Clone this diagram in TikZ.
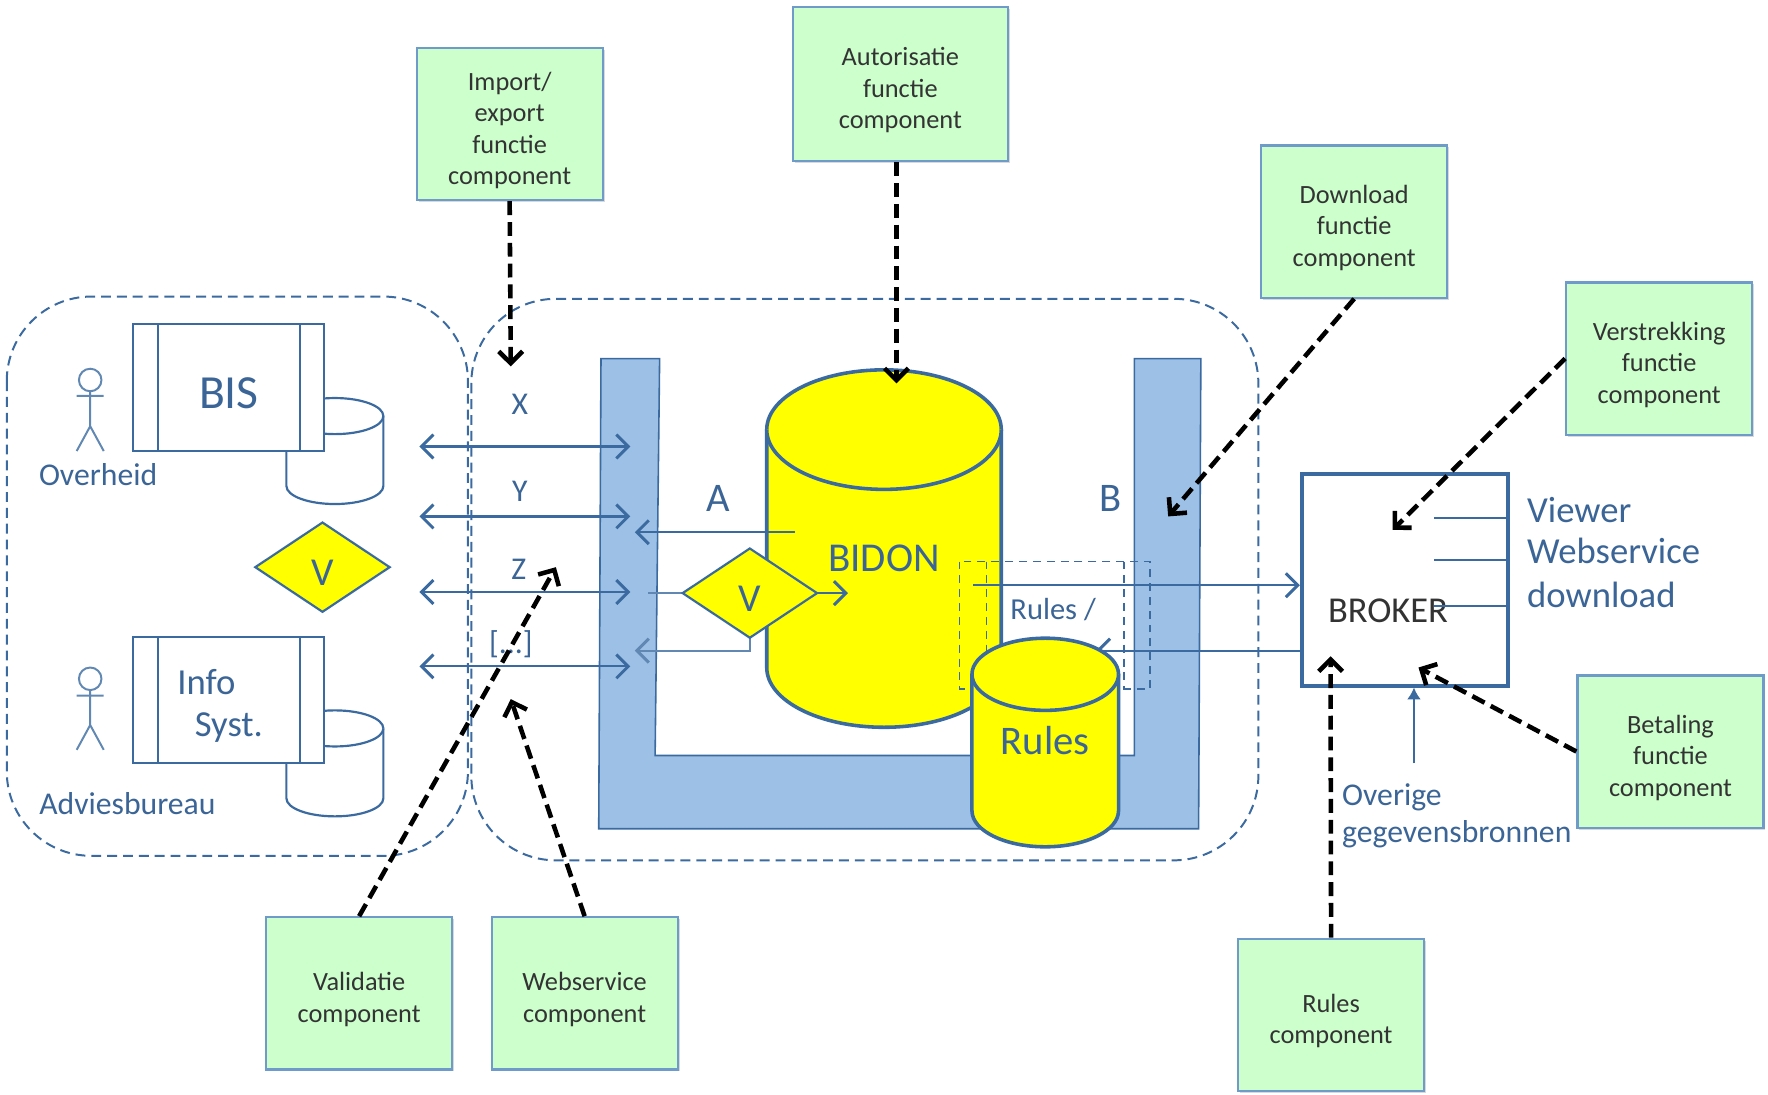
\documentclass[tikz,border=0pt]{standalone}
\usepackage{fontspec}
\setmainfont{Carlito}
\usepackage{tikz}
\usetikzlibrary{arrows.meta,shadows,shapes.geometric}
\definecolor{myline}{HTML}{3A6A9F}
\definecolor{mytext}{HTML}{3B6596}
\definecolor{myblock}{HTML}{9DC0E6}
\definecolor{mygreen}{HTML}{CCFFCC}
\definecolor{mygreenline}{HTML}{6F9BCB}
\definecolor{myyellow}{HTML}{FFFF00}
\begin{document}
\begin{tikzpicture}[x=0.02cm,y=-0.02cm]
		\useasboundingbox (0,0) rectangle (1568,971);
		\tikzset{mycomponent/.style={draw=mygreenline,fill=mygreen,line width=1.1pt,text width=3.3cm,minimum height=2.7cm,align=center,text=black!80,inner sep=0pt,font=\fontsize{13.3}{15.9}\selectfont,execute at begin node={\rule{0pt}{15.5pt}},drop shadow={opacity=0.3,shadow xshift=1pt,shadow yshift=-1pt}}} %green boxes
		\tikzset{mycall/.style={draw=black,line width=2.3pt,dash pattern=on 7pt off 3.5pt,-{Straight Barb[length=6pt,width=12pt,line width=2.3pt]}}} %black arrows
		\tikzset{myflow/.style={draw=myline,line width=1.1pt,-{Straight Barb[length=6pt,width=12pt,line width=1.5pt]}}} %blue arrows
		\tikzset{myregion/.style={draw=myline,line width=1pt,dash pattern=on 5pt off 3pt,rounded corners=1.5cm}} %dashed regions
		\tikzset{mycyl/.style={draw=myline,fill=myyellow,line width=1.8pt}}
		\tikzset{mysmallcyl/.style={draw=myline,fill=white,line width=1.1pt}}
		\tikzset{mysystem/.style={draw=myline,fill=white,line width=1.1pt}}
		\tikzset{mycheck/.style={diamond,draw=myline,fill=myyellow,line width=1.1pt,aspect=1.5,minimum width=2.4cm,minimum height=1.6cm,inner sep=0pt,text=mytext,font=\fontsize{20}{24}\selectfont}}
		\tikzset{mylabel/.style={text=mytext,inner sep=0pt,align=left,font=\fontsize{16}{19}\selectfont}}
		\draw[myregion] (6,263) rectangle (415,759); %organisations
		\draw[myregion] (418,265) rectangle (1116,763);
		\fill[myblock,draw=myline,line width=0.8pt] (533,318) -- (585,318) -- (581,670) -- (1006,670) -- (1006,318) -- (1065,318) -- (1063,735) -- (531,735) -- cycle; %the U block
		\draw[mysmallcyl] (254,369) -- (254,431) arc[start angle=180,end angle=0,x radius=43,y radius=16] -- (340,369) arc[start angle=0,end angle=-180,x radius=43,y radius=16] -- cycle; %small databases
		\draw[mysmallcyl] (254,369) arc[start angle=180,end angle=0,x radius=43,y radius=16];
		\draw[mysmallcyl] (254,646) -- (254,708) arc[start angle=180,end angle=0,x radius=43,y radius=16] -- (340,646) arc[start angle=0,end angle=-180,x radius=43,y radius=16] -- cycle;
		\draw[mysmallcyl] (254,646) arc[start angle=180,end angle=0,x radius=43,y radius=16];
		\draw[mysystem] (118,287) rectangle (287,400); %systems
		\draw[myline,line width=1.1pt] (140,287) -- (140,400);
		\draw[myline,line width=1.1pt] (266,287) -- (266,400);
		\draw[mysystem] (118,565) rectangle (287,677);
		\draw[myline,line width=1.1pt] (140,565) -- (140,677);
		\draw[myline,line width=1.1pt] (266,565) -- (266,677);
		\node[text=mytext,inner sep=0pt,font=\fontsize{24}{28}\selectfont] (bis) at (203,349) {BIS};
		\node[text=mytext,inner sep=0pt,font=\fontsize{18.5}{22}\selectfont] (info) at (183,605) {Info};
		\node[text=mytext,inner sep=0pt,font=\fontsize{18.5}{22}\selectfont] (syst) at (203,645) {Syst.};
		\draw[myline!80,line width=1pt] (80,337) circle (10); %actors
		\draw[myline!80,line width=1pt] (80,347) -- (80,378) (68,351) -- (92,351) (68,400) -- (80,378) -- (92,400);
		\draw[myline!80,line width=1pt] (80,602) circle (10);
		\draw[myline!80,line width=1pt] (80,612) -- (80,643) (68,617) -- (92,617) (68,665) -- (80,643) -- (92,665);
		\node[mylabel] (overheid) at (87,421) {Overheid};
		\node[mylabel] (advies) at (113,713) {Adviesbureau};
		\node[mycheck] (vleft) at (286,503) {\raisebox{-9.3pt}[0pt][0pt]{V}};
		\coordinate (xa) at (372,396); %exchange arrows
		\coordinate (xb) at (559,396);
		\coordinate (ya) at (372,458);
		\coordinate (yb) at (559,458);
		\coordinate (za) at (372,525);
		\coordinate (zb) at (559,525);
		\coordinate (da) at (372,591);
		\coordinate (db) at (559,591);
		\draw[myflow,{Straight Barb[length=6pt,width=12pt,line width=1.5pt]}-{Straight Barb[length=6pt,width=12pt,line width=1.5pt]}] (xa) -- (xb);
		\draw[myflow,{Straight Barb[length=6pt,width=12pt,line width=1.5pt]}-{Straight Barb[length=6pt,width=12pt,line width=1.5pt]}] (ya) -- (yb);
		\draw[myflow,{Straight Barb[length=6pt,width=12pt,line width=1.5pt]}-{Straight Barb[length=6pt,width=12pt,line width=1.5pt]}] (za) -- (zb);
		\draw[myflow,{Straight Barb[length=6pt,width=12pt,line width=1.5pt]}-{Straight Barb[length=6pt,width=12pt,line width=1.5pt]}] (da) -- (db);
		\node[mylabel] (x) at (461,359) {X};
		\node[mylabel] (y) at (461,436) {Y};
		\node[mylabel] (z) at (460,505) {Z};
		\node[mylabel] (dots) at (453,571) {[...]};
		\draw[mycyl] (680,381) -- (680,592) arc[start angle=180,end angle=0,x radius=104,y radius=53] -- (888,381) arc[start angle=0,end angle=-180,x radius=104,y radius=53] -- cycle; %big database
		\draw[mycyl] (680,381) arc[start angle=180,end angle=0,x radius=104,y radius=53];
		\node[text=mytext,inner sep=0pt,font=\fontsize{20.7}{24}\selectfont] (bidon) at (784,495) {BIDON};
		\node[text=mytext,inner sep=0pt,font=\fontsize{20.5}{24}\selectfont] (a) at (637,442) {A};
		\node[text=mytext,inner sep=0pt,font=\fontsize{20.5}{24}\selectfont] (b) at (985,442) {B};
		\coordinate (aout) at (705,472);
		\coordinate (ain) at (563,472);
		\draw[myflow] (aout) -- (ain);
		\coordinate (vin) at (575,526);
		\coordinate (vout) at (752,526);
		\coordinate (vback) at (563,577);
		\draw[myline!80,line width=1.1pt] (vin) -- (665,526);
		\draw[myflow,draw=myline!80] (665,526) -- (665,577) -- (vback);
		\draw[myflow] (665,526) -- (vout);
		\node[mycheck] (vright) at (665,526) {\raisebox{-9.3pt}[0pt][0pt]{V}};
		\draw[myline,line width=0.8pt,dash pattern=on 4pt off 3pt] (851,498) rectangle (1020,611); %rules frame
		\draw[myline,line width=0.8pt,dash pattern=on 4pt off 3pt] (875,498) -- (875,611);
		\draw[myline,line width=0.8pt,dash pattern=on 4pt off 3pt] (997,498) -- (997,611);
		\node[mylabel,font=\fontsize{15.4}{18}\selectfont] (rulesfrom) at (934,541) {Rules /};
		\node[draw=myline,line width=2pt,fill=white,minimum width=3.66cm,minimum height=3.76cm,inner sep=0pt] (broker) at (1246,514) {};
		\coordinate (toa) at (863,519);
		\coordinate (tob) at (972,577);
		\draw[myflow] (toa) -- (toa -| broker.west);
		\draw[myflow] (tob -| broker.west) -- (tob);
		\draw[mycyl] (862,598) -- (862,719) arc[start angle=180,end angle=0,x radius=65,y radius=32] -- (992,598) arc[start angle=0,end angle=-180,x radius=65,y radius=32] -- cycle; %rules database
		\draw[mycyl] (862,598) arc[start angle=180,end angle=0,x radius=65,y radius=32];
		\node[text=mytext,inner sep=0pt,font=\fontsize{20.5}{24}\selectfont] (rules) at (927,657) {Rules};
		\node[inner sep=0pt,text=black!80,font=\fontsize{18.4}{22}\selectfont] (brokerlabel) at (1231,542) {BROKER};
		\coordinate (viewer) at (1272,459); %broker outputs
		\coordinate (webservice) at (1272,497);
		\coordinate (download) at (1272,537);
		\draw[myline,line width=1pt] (viewer) -- (viewer -| broker.east);
		\draw[myline,line width=1pt] (webservice) -- (webservice -| broker.east);
		\draw[myline,line width=1pt] (download) -- (download -| broker.east);
		\node[mylabel,anchor=west,font=\fontsize{18.5}{22}\selectfont] (viewerlabel) at (1354,452) {Viewer};
		\node[mylabel,anchor=west,font=\fontsize{18.5}{22}\selectfont] (webservicelabel) at (1354,489) {Webservice};
		\node[mylabel,anchor=west,font=\fontsize{18.5}{22}\selectfont] (downloadlabel) at (1354,528) {download};
		\node[mylabel,anchor=west] (overige) at (1190,707) {Overige};
		\node[mylabel,anchor=west] (bronnen) at (1190,740) {gegevensbronnen};
		\coordinate (overigeout) at (1254,677);
		\draw[draw=myline,line width=1pt,-{Latex[length=6pt,width=7pt]}] (overigeout) -- (overigeout |- broker.south);
		\node[mycomponent] (import) at (452,110) {Import/\\export\\functie\\component};
		\node[mycomponent,text width=3.82cm,minimum height=2.74cm] (autorisatie) at (798.5,74.5) {Autorisatie\\functie\\component};
		\node[mycomponent] (downloadbox) at (1201,196.5) {Download\\functie\\component};
		\node[mycomponent] (verstrekking) at (1471.5,318) {Verstrekking\\functie\\component};
		\node[mycomponent] (betaling) at (1481.5,666.5) {Betaling\\functie\\component};
		\node[mycomponent] (validatie) at (318.5,881) {Validatie\\component};
		\node[mycomponent] (webservicebox) at (518.5,881) {Webservice\\component};
		\node[mycomponent] (rulesbox) at (1180.5,900) {Rules\\component};
		\coordinate (importend) at (453,325); %ends of the black arrows
		\coordinate (autorisatieend) at (795,340);
		\coordinate (downloadend) at (1036,458);
		\coordinate (verstrekkingend) at (1235,470);
		\coordinate (betalingend) at (1258,592);
		\coordinate (rulesend) at (1180,582);
		\coordinate (validatieend) at (493,503);
		\coordinate (webserviceend) at (453,620);
		\draw[mycall] (import.south) -- (importend);
		\draw[mycall] (autorisatie.south -| autorisatieend) -- (autorisatieend);
		\draw[mycall] (downloadbox.south) -- (downloadend);
		\draw[mycall] (verstrekking.west) -- (verstrekkingend);
		\draw[mycall] (betaling.west) -- (betalingend);
		\draw[mycall] (rulesbox.north) -- (rulesend);
		\draw[mycall] (validatie.north) -- (validatieend);
		\draw[mycall] (webservicebox.north) -- (webserviceend);
	\end{tikzpicture}
\end{document}
